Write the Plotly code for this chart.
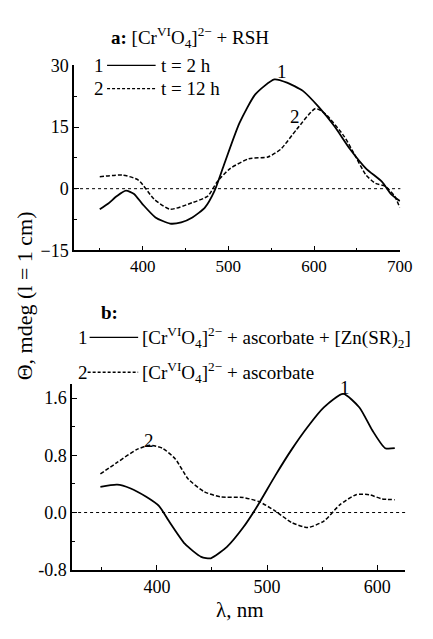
import plotly.graph_objects as go

# ---- Panel a data ----
a_lam1 = [350, 360, 370, 380.5, 390, 400, 415, 432, 445, 458, 472.6, 483.7, 494.7, 513, 531.6, 553.7, 568.4, 586.9, 605.3, 623.7, 642, 660.6, 679, 690, 700]
a_th1 = [-5.0, -3.6, -1.8, -0.5, -1.3, -3.8, -7.0, -8.5, -8.2, -7.0, -4.6, -0.6, 5.7, 16.0, 23.0, 26.6, 25.8, 23.8, 19.9, 15.2, 9.6, 4.9, 1.7, -1.4, -3.0]
a_lam2 = [350, 376.8, 395, 413.6, 432, 458, 476, 487, 502, 524, 546, 561, 579.5, 601.6, 612.7, 634.8, 645.9, 660.6, 671.6, 682.7, 693.8, 700]
a_th2 = [2.9, 3.3, 2.1, -2.6, -5.0, -3.4, -1.8, 1.7, 4.9, 7.3, 7.7, 9.6, 14.4, 19.5, 18.3, 12.8, 8.8, 3.3, 1.3, 0.6, -1.8, -4.6]

# ---- Panel b data ----
b_lam1 = [348.7, 363.9, 375.7, 390.3, 402, 410.9, 425.5, 440.2, 449, 463.6, 478.3, 490, 507.6, 522.3, 537, 551.6, 569.2, 583.9, 595.6, 607.3, 616]
b_th1 = [0.36, 0.39, 0.34, 0.22, 0.09, -0.12, -0.44, -0.62, -0.64, -0.48, -0.21, 0.06, 0.52, 0.88, 1.2, 1.47, 1.66, 1.47, 1.15, 0.9, 0.9]
b_lam2 = [348.7, 363.9, 381.5, 393.3, 405, 416.7, 428.4, 443.1, 457.8, 478.3, 493, 507.6, 522.3, 537, 551.6, 566.3, 580.9, 592.7, 604.4, 616]
b_th2 = [0.54, 0.70, 0.88, 0.94, 0.90, 0.75, 0.47, 0.29, 0.22, 0.21, 0.15, 0.02, -0.14, -0.21, -0.12, 0.11, 0.25, 0.25, 0.19, 0.18]

a_xticks = [400, 500, 600, 700]
a_yticks = [-15, 0, 15, 30]
b_xticks = [400, 500, 600]
b_yticks = [-0.8, 0.0, 0.8, 1.6]
b_yticklabels = ["-0.8", "0.0", "0.8", "1.6"]

FONT = "Liberation Serif"
# page body has an 8px margin on every side: keep the figure inside the window
OFF = 8
W, H = 433 - 2 * OFF, 639 - 2 * OFF

fig = go.Figure()

line_solid = dict(color="black", width=1.8, shape="spline", smoothing=0.6)
line_dash = dict(color="black", width=1.5, dash="4px,2px", shape="spline", smoothing=0.6)

fig.add_trace(go.Scatter(x=a_lam1, y=a_th1, mode="lines", line=line_solid, xaxis="x", yaxis="y", showlegend=False))
fig.add_trace(go.Scatter(x=a_lam2, y=a_th2, mode="lines", line=line_dash, xaxis="x", yaxis="y", showlegend=False))
fig.add_trace(go.Scatter(x=b_lam1, y=b_th1, mode="lines", line=line_solid, xaxis="x2", yaxis="y2", showlegend=False))
fig.add_trace(go.Scatter(x=b_lam2, y=b_th2, mode="lines", line=line_dash, xaxis="x2", yaxis="y2", showlegend=False))

def px(xp):
    return (xp - OFF) / W

def py(yp):
    return 1 - (yp - OFF) / H

axis_common = dict(
    showgrid=False, zeroline=False, showline=True, linecolor="black", linewidth=1.5,
    ticks="inside", ticklen=5, tickwidth=1, tickcolor="black",
    tickfont=dict(family=FONT, size=18, color="black"),
    ticklabeloverflow="allow",
    minor=dict(ticks="inside", ticklen=3, tickwidth=1, tickcolor="black"),
)

fig.update_layout(
    width=W, height=H,
    margin=dict(l=0, r=0, t=0, b=0),
    paper_bgcolor="white", plot_bgcolor="white",
    font=dict(family=FONT, color="black"),
    xaxis=dict(axis_common, domain=[px(76), px(412)], range=[320, 700.6], tickvals=a_xticks,
               tickfont=dict(family=FONT, size=17, color="black"),
               anchor="y", minor=dict(axis_common["minor"], dtick=50)),
    yaxis=dict(axis_common, domain=[py(248), py(57)], range=[-15, 30], tickvals=a_yticks,
               anchor="x", minor=dict(axis_common["minor"], dtick=7.5)),
    xaxis2=dict(axis_common, domain=[px(74), px(417)], range=[323, 625.5], tickvals=b_xticks,
                anchor="y2", minor=dict(axis_common["minor"], dtick=50)),
    yaxis2=dict(axis_common, domain=[py(578), py(386)], range=[-0.8, 1.8], tickvals=b_yticks,
                ticktext=b_yticklabels, anchor="x2", minor=dict(axis_common["minor"], dtick=0.4)),
)

# dotted zero lines
fig.add_shape(type="line", xref="x domain", yref="y", x0=0, x1=1, y0=0, y1=0,
              line=dict(color="black", width=1, dash="dot"), layer="below")
fig.add_shape(type="line", xref="x2 domain", yref="y2", x0=0, x1=1, y0=0, y1=0,
              line=dict(color="black", width=1, dash="dot"), layer="below")

def ann(text, x, y, size=19, xanchor="left", **kw):
    fig.add_annotation(text=text, x=px(x), y=py(y), xref="paper", yref="paper",
                       showarrow=False, xanchor=xanchor, yanchor="middle",
                       font=dict(family=FONT, size=size, color="black"), **kw)

def legline(x0, x1, y, dash):
    fig.add_shape(type="line", xref="paper", yref="paper", x0=px(x0), x1=px(x1),
                  y0=py(y), y1=py(y), line=dict(color="black", width=1.3, dash=dash))

# Panel a legend
ann("<b>a:</b> [Cr<sup>VI</sup>O<sub>4</sub>]<sup>2−</sup> + RSH", 112, 28)
ann("1", 94, 57)
legline(110, 160, 57, "solid")
ann("t = 2 h", 163, 57)
ann("2", 94, 81)
legline(110, 160, 81, "3px,2px")
ann("t = 12 h", 163, 81)
ann("1", 290, 63, xanchor="center")
ann("2", 303, 110, xanchor="center")

# Panel b legend
ann("<b>b:</b>", 102, 312)
ann("1", 78, 338)
legline(92, 142, 338, "solid")
ann("[Cr<sup>VI</sup>O<sub>4</sub>]<sup>2−</sup> + ascorbate + [Zn(SR)<sub>2</sub>]", 144, 338)
ann("2", 78, 374)
legline(90, 142, 374, "3px,2px")
ann("[Cr<sup>VI</sup>O<sub>4</sub>]<sup>2−</sup> + ascorbate", 144, 374)
ann("1", 355, 390, xanchor="center")
ann("2", 153, 444, xanchor="center")

# axis titles
ann("Θ, mdeg (l = 1 cm)", 25, 295, size=22, xanchor="center", textangle=-90)
ann("λ, nm", 247, 620, size=21, xanchor="center")

fig.write_html("out.html")
